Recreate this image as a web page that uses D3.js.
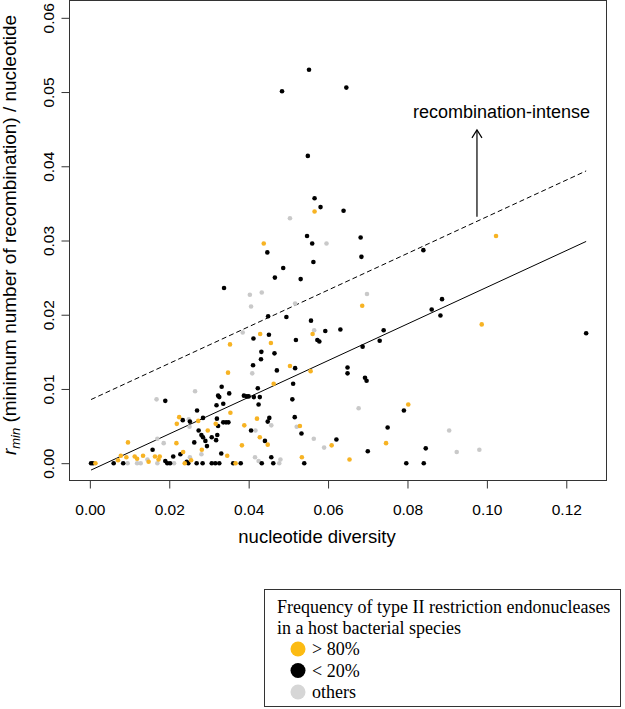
<!DOCTYPE html>
<html><head><meta charset="utf-8">
<script src="https://cdnjs.cloudflare.com/ajax/libs/d3/7.8.5/d3.min.js"></script>
<style>body{margin:0;background:#fff}svg{display:block}</style>
</head><body>
<svg id="c" width="625" height="709"></svg>
<script>
// ---- data: [nucleotide diversity, r_min] ----
const grayPts = [
[0.0095,0],[0.0119,0],[0.0128,0],[0.0170,0],[0.0212,0],[0.0145,0.0005],[0.0170,0.0033],[0.0186,0.0027],
[0.0252,0.0008],[0.0281,0.0012],[0.0168,0.0086],[0.0265,0.0097],[0.0249,0.0059],[0.0251,0.0049],
[0.0457,0.0051],[0.0417,0.0044],[0.0521,0.0049],[0.0564,0.0033],[0.0590,0.0021],[0.0416,0.0008],
[0.0425,0.0003],[0.0480,0.0005],[0.0477,0],[0.0677,0.0074],[0.0905,0.0044],[0.0924,0.0015],[0.0981,0.0018],
[0.0403,0.0227],[0.0433,0.0230],[0.0406,0.0211],[0.0517,0.0215],[0.0385,0.0176],[0.0565,0.0179],
[0.0409,0.0121],[0.0698,0.0228],[0.0504,0.0330],[0.0596,0.0296]
];
const blackPts = [
[0.0003,0],[0.0008,0],[0.0060,0],[0.0084,0],[0.0190,0.0003],[0.0195,0],[0.0202,0],[0.0244,0.0002],[0.0248,0],
[0.0269,0],[0.0284,0],[0.0307,0],[0.0316,0],[0.0326,0],[0.0158,0.0018],[0.0210,0.0009],[0.0228,0.0012],
[0.0263,0.0028],[0.0291,0.0030],[0.0295,0.0023],[0.0307,0.0035],[0.0318,0.0031],[0.0281,0.0038],[0.0320,0.0060],
[0.0190,0.0084],[0.0319,0.0078],[0.0323,0.0091],[0.0270,0.0071],[0.0234,0.0058],[0.0252,0.0056],[0.0285,0.0061],
[0.0274,0.0044],[0.0332,0.0103],[0.0326,0.0089],[0.0351,0.0094],[0.0336,0.0080],[0.0423,0.0101],[0.0512,0.0107],
[0.0388,0.0091],[0.0395,0.0090],[0.0400,0.0090],[0.0413,0.0089],[0.0428,0.0089],[0.0425,0.0079],[0.0510,0.0086],
[0.0336,0.0055],[0.0343,0.0055],[0.0349,0.0055],[0.0323,0.0050],[0.0452,0.0061],[0.0448,0.0056],[0.0406,0.0044],
[0.0516,0.0062],[0.0533,0.0040],[0.0285,0.0035],[0.0321,0.0038],[0.0331,0.0013],[0.0441,0.0030],[0.0621,0.0032],
[0.0540,0],[0.0433,0],[0.0457,0.0008],[0.0462,0],[0.0361,0],[0.0380,0],
[0.0697,0.0111],[0.0791,0.0071],[0.0750,0.0048],[0.0700,0.0016],[0.0846,0.0020],[0.0797,0],[0.0841,0],
[0.0447,0.0284],[0.0487,0.0263],[0.0563,0.0271],[0.0466,0.0250],[0.0531,0.0248],[0.0338,0.0236],
[0.0449,0.0198],[0.0495,0.0197],[0.0557,0.0192],[0.0451,0.0173],[0.0593,0.0178],[0.0631,0.0180],[0.0412,0.0168],
[0.0519,0.0166],[0.0573,0.0166],[0.0578,0.0164],[0.0432,0.0150],[0.0465,0.0148],[0.0431,0.0140],[0.0411,0.0132],
[0.0517,0.0128],[0.0471,0.0125],[0.0649,0.0129],[0.0649,0.0121],
[0.0684,0.0278],[0.0840,0.0287],[0.0887,0.0221],[0.0861,0.0207],[0.0883,0.0199],[0.0740,0.0179],[0.0730,0.0165],
[0.0687,0.0157],[0.0693,0.0115],
[0.0552,0.0530],[0.0484,0.0501],[0.0646,0.0506],[0.0549,0.0414],[0.0566,0.0357],[0.0581,0.0345],[0.0639,0.0340],
[0.0547,0.0306],[0.0560,0.0296],[0.0682,0.0304],[0.1250,0.0175]
];
const orangePts = [
[0.0014,0],[0.0239,0],[0.0255,0.0004],[0.0096,0.0028],[0.0078,0.0010],[0.0071,0.0004],[0.0092,0.0008],
[0.0113,0.0009],[0.0119,0.0006],[0.0134,0.0010],[0.0148,0.0002],[0.0164,0.0009],[0.0173,0.0005],[0.0176,0.0009],
[0.0218,0.0027],[0.0235,0.0015],[0.0282,0.0018],[0.0297,0.0044],[0.0317,0.0053],[0.0225,0.0062],[0.0219,0.0053],
[0.0273,0.0057],[0.0463,0.0107],[0.0354,0.0068],[0.0389,0.0051],[0.0421,0.0060],[0.0529,0.0050],[0.0346,0.0010],
[0.0383,0.0024],[0.0428,0.0035],[0.0448,0.0025],[0.0609,0.0024],[0.0654,0.0005],[0.0534,0.0008],[0.0367,0],
[0.0802,0.0079],[0.0746,0.0027],[0.0429,0.0174],[0.0561,0.0174],[0.0456,0.0162],[0.0353,0.0160],[0.0504,0.0131],
[0.0556,0.0124],[0.0348,0.0122],[0.0686,0.0212],[0.0987,0.0187],[0.0566,0.0339],[0.0438,0.0296],[0.1023,0.0306]
];
const xTicks = [0, 0.02, 0.04, 0.06, 0.08, 0.10, 0.12];
const yTicks = [0, 0.01, 0.02, 0.03, 0.04, 0.05, 0.06];
const fitSlope = 0.247, fitIntercept = -0.0010, upperIntercept = 0.0085;
const fitRange = [0.0003, 0.1250];
const legendTitle = ["Frequency of type II restriction endonucleases", "in a host bacterial species"];
const legendLabels = ["> 80%", "< 20%", "others"];
const colOrange = "#F7B323", colBlack = "#000000", colGray = "#C9C9C9";
const legendColors = ["#FCBB12", "#000000", "#D6D6D6"];

// ---- drawing ----
const svg = d3.select("#c");
const L = 69.5, R = 606.5, T = 0.5, B = 480.5;
const x = d3.scaleLinear().domain([-0.005, 0.13]).range([70, 606]);
const y = d3.scaleLinear().domain([-0.0024, 0.0624]).range([481, 0]);
const sans = "'Liberation Sans', Arial, Helvetica, sans-serif";
const serif = "'Liberation Serif', 'Times New Roman', Times, serif";

const xAxis = d3.axisBottom(x).tickValues(xTicks).tickFormat(d3.format(".2f")).tickSize(8).tickSizeOuter(0);
const gx = svg.append("g").attr("transform", `translate(0,${B})`).call(xAxis);
gx.select(".domain").remove();
gx.selectAll("line").attr("stroke", "#333");
gx.selectAll("text").attr("font-family", sans).attr("font-size", 15.5).attr("fill", "#000").attr("dy", null).attr("y", 34);

const yAxis = d3.axisLeft(y).tickValues(yTicks).tickFormat(d3.format(".2f")).tickSize(8).tickSizeOuter(0);
const gy = svg.append("g").attr("transform", `translate(${L},0)`).call(yAxis);
gy.select(".domain").remove();
gy.selectAll("line").attr("stroke", "#333");
gy.selectAll("text").attr("font-family", sans).attr("font-size", 15.5).attr("fill", "#000")
  .attr("x", null).attr("dy", null).attr("text-anchor", "middle")
  .attr("transform", "translate(-16,0) rotate(-90)");

svg.append("rect").attr("x", L).attr("y", T).attr("width", R - L).attr("height", B - T)
  .attr("fill", "none").attr("stroke", "#333").attr("stroke-width", 1);

// axis titles
svg.append("text").attr("x", 317).attr("y", 543).attr("text-anchor", "middle")
  .attr("font-family", sans).attr("font-size", 18.5).text("nucleotide diversity");
const yt = svg.append("text").attr("transform", `translate(16,235) rotate(-90)`)
  .attr("text-anchor", "middle").attr("font-family", sans).attr("font-size", 19);
yt.append("tspan").attr("font-style", "italic").text("r");
yt.append("tspan").attr("font-style", "italic").attr("font-size", 13).attr("dy", 4).text("min");
yt.append("tspan").attr("dy", -4).text(" (minimum number of recombination) / nucleotide");

// fit lines
const line = d3.line().x(d => x(d[0])).y(d => y(d[1]));
svg.append("path").datum(fitRange.map(v => [v, fitIntercept + fitSlope * v])).attr("d", line)
  .attr("stroke", "#000").attr("stroke-width", 1).attr("fill", "none");
svg.append("path").datum(fitRange.map(v => [v, upperIntercept + fitSlope * v])).attr("d", line)
  .attr("stroke", "#000").attr("stroke-width", 1).attr("stroke-dasharray", "5,3").attr("fill", "none");

// points
const groups = [[grayPts, colGray], [blackPts, colBlack], [orangePts, colOrange]];
groups.forEach(([pts, c]) => {
  svg.append("g").selectAll("circle").data(pts).join("circle")
    .attr("cx", d => x(d[0])).attr("cy", d => y(d[1])).attr("r", 2.3).attr("fill", c);
});

// arrow + annotation
const ax = x(0.0975), ay0 = y(0.0332), ay1 = y(0.0449);
svg.append("line").attr("x1", ax).attr("x2", ax).attr("y1", ay0).attr("y2", ay1).attr("stroke", "#000").attr("stroke-width", 1.2);
svg.append("path").attr("d", `M${ax - 5},${ay1 + 8} L${ax},${ay1} L${ax + 5},${ay1 + 8}`)
  .attr("stroke", "#000").attr("stroke-width", 1.2).attr("fill", "none");
svg.append("text").attr("x", 413).attr("y", 118).attr("font-family", sans).attr("font-size", 18)
  .text("recombination-intense");

// legend
const lg = svg.append("g");
lg.append("rect").attr("x", 264.5).attr("y", 589.5).attr("width", 356).attr("height", 117)
  .attr("fill", "#fff").attr("stroke", "#333").attr("stroke-width", 1);
legendTitle.forEach((t, i) => lg.append("text").attr("x", 277).attr("y", 613 + i * 21)
  .attr("font-family", serif).attr("font-size", 18).text(t));
legendLabels.forEach((t, i) => {
  lg.append("circle").attr("cx", 298).attr("cy", 649 + i * 21.5).attr("r", 7.5).attr("fill", legendColors[i]);
  lg.append("text").attr("x", 312).attr("y", 655 + i * 21.5).attr("font-family", serif).attr("font-size", 18).text(t);
});
</script>
</body></html>
